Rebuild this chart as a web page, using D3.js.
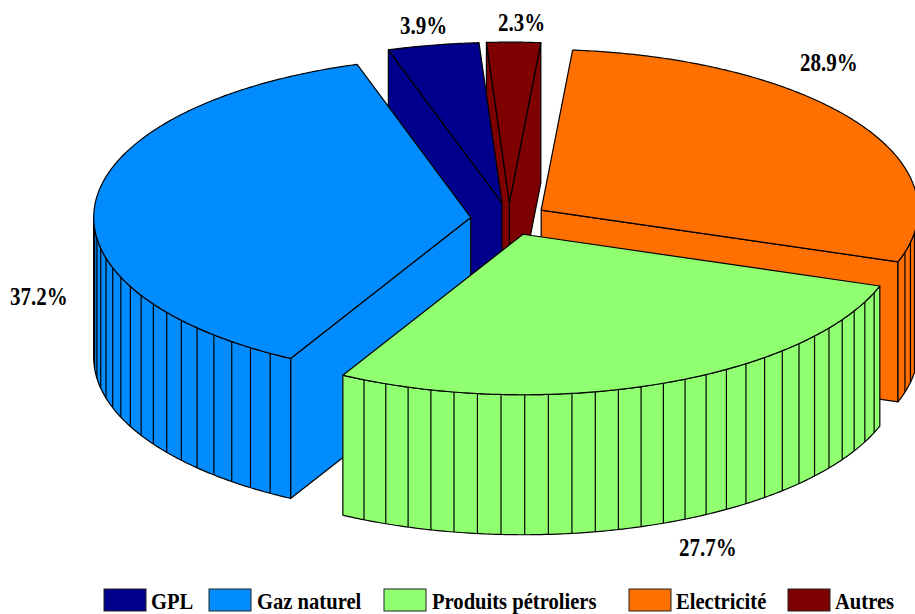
<!DOCTYPE html>
<html>
<head>
<meta charset="utf-8">
<script src="https://cdn.jsdelivr.net/npm/d3@7"></script>
<style>
  html, body { margin: 0; padding: 0; background: #fff; overflow: hidden; }
  svg { display: block; }
  text { font-family: "Liberation Serif", serif; font-weight: bold; font-size: 20.6px; fill: #000; }
  .share { font-size: 21px; }
</style>
</head>
<body>
<svg id="chart" width="915" height="614"></svg>
<script>
// Energy mix, share of each source in percent
const categories = ["GPL", "Gaz naturel", "Produits pétroliers", "Electricité", "Autres"];
const shares = [3.9, 37.2, 27.7, 28.9, 2.3];
const colours = ["#00008c", "#008cff", "#90ff70", "#ff7000", "#7f0000"];
const shareLabels = ["3.9%", "37.2%", "27.7%", "28.9%", "2.3%"];

// Layout of the tilted pie
const cx = 509, cy = 219;            // pie centre before slices are pulled out
const rx = 377, ry = 160.5;          // ellipse radii of the top face
const depth = 140;                   // wall height
const explode = 0.102;               // pull-out as a fraction of the radius
const firstAngle = 266.5;            // where the first slice begins, degrees
const ribStep = 3.6;                 // wall ribs every 1 % of the pie
const paintOrder = ["Autres", "GPL", "Electricité", "Gaz naturel", "Produits pétroliers"];

// Text and legend placement
const labelPos = [[400, 34], [10, 305], [679, 556], [800, 71], [498, 31]];
const legendSwatchX = [104, 209, 384, 629, 788];
const legendTextX = [151, 257, 432, 676, 835];
const labelStretch = 1.18;           // type is set taller than its natural proportions
const legendStretch = 1.12;
const legendBaseline = 609;

const svg = d3.select("#chart");
const rad = d => d * Math.PI / 180;

const arcs = d3.pie().sort(null)
  .startAngle(rad(firstAngle))
  .endAngle(rad(firstAngle - 360))(shares);

const slices = categories.map((name, i) => {
  const a = arcs[i].startAngle, b = arcs[i].endAngle, mid = (a + b) / 2;
  return {
    name, i, a, b,
    ox: cx + explode * rx * Math.cos(mid),
    oy: cy + explode * ry * Math.sin(mid)
  };
});

const px = (s, t) => s.ox + rx * Math.cos(t);
const py = (s, t) => s.oy + ry * Math.sin(t);
const line = d3.line();

// Points along the rim between two angles
function rim(s, from, to, dy = 0) {
  const n = Math.max(2, Math.ceil(Math.abs(to - from) / rad(0.5)));
  return d3.range(n + 1).map(k => {
    const t = from + (to - from) * k / n;
    return [px(s, t), py(s, t) + dy];
  });
}

function face(g, pts, fill) {
  g.append("path")
    .attr("d", line(pts) + "Z")
    .attr("fill", fill)
    .attr("stroke", "#000")
    .attr("stroke-width", 1.2)
    .attr("stroke-linejoin", "round");
}

function radialFace(g, s, t, fill) {
  face(g, [[s.ox, s.oy], [px(s, t), py(s, t)], [px(s, t), py(s, t) + depth], [s.ox, s.oy + depth]], fill);
}

paintOrder.map(n => slices.find(s => s.name === n)).forEach(s => {
  const g = svg.append("g");
  const fill = colours[s.i];

  // Cut faces that turn towards the viewer
  if (Math.cos(s.a) > 0) radialFace(g, s, s.a, fill);
  if (Math.cos(s.b) < 0) radialFace(g, s, s.b, fill);

  // Outer wall, only where the rim runs along the front of the ellipse
  const hi = Math.min(s.a, Math.PI), lo = Math.max(s.b, 0);
  if (hi > lo) {
    face(g, rim(s, hi, lo).concat(rim(s, lo, hi, depth)), fill);

    // Ribs are counted from the slice edge that stands on the front of the rim
    const step = rad(ribStep);
    const ribs = s.a <= Math.PI
      ? d3.range(s.a - step, lo, -step)
      : d3.range(s.b + step, hi, step);
    g.selectAll("line").data(ribs).join("line")
      .attr("x1", t => px(s, t)).attr("x2", t => px(s, t))
      .attr("y1", t => py(s, t)).attr("y2", t => py(s, t) + depth)
      .attr("stroke", "#000").attr("stroke-width", 1.2);
  }

  // Top face
  face(g, [[s.ox, s.oy]].concat(rim(s, s.a, s.b)), fill);
});

const placeText = (x, y, k) => `translate(${x},${y}) scale(1,${k})`;

// Percentage labels
svg.append("g").selectAll("text").data(shareLabels).join("text")
  .attr("class", "share")
  .attr("transform", (d, i) => placeText(labelPos[i][0], labelPos[i][1], labelStretch))
  .text(d => d);

// Legend
const legend = svg.append("g");
legend.selectAll("rect").data(categories).join("rect")
  .attr("x", (d, i) => legendSwatchX[i])
  .attr("y", 589).attr("width", 42).attr("height", 22)
  .attr("fill", (d, i) => colours[i])
  .attr("stroke", "#222").attr("stroke-width", 1);
legend.selectAll("text").data(categories).join("text")
  .attr("transform", (d, i) => placeText(legendTextX[i], legendBaseline, legendStretch))
  .text(d => d);
</script>
</body>
</html>
